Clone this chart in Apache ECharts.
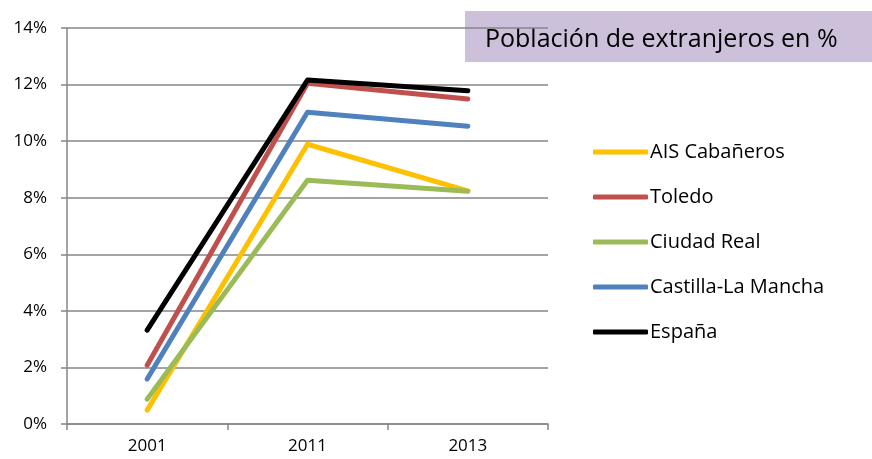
<!DOCTYPE html>
<html>
<head>
<meta charset="utf-8">
<script src="https://cdn.jsdelivr.net/npm/echarts@6/dist/echarts.min.js"></script>
<style>
  html, body { margin: 0; padding: 0; background: #fff; }
  #main { width: 872px; height: 459px; }
</style>
</head>
<body>
<div id="main"></div>
<script>
// años
const years = ['2001', '2011', '2013']
// población extranjera en %
const aisCabaneros = [0.49, 9.89, 8.24]
const toledo = [2.08, 12.05, 11.49]
const ciudadReal = [0.88, 8.62, 8.23]
const castillaLaMancha = [1.59, 11.02, 10.53]
const espana = [3.32, 12.16, 11.78]

const seriesNames = ['AIS Cabañeros', 'Toledo', 'Ciudad Real', 'Castilla-La Mancha', 'España']
const seriesData = [aisCabaneros, toledo, ciudadReal, castillaLaMancha, espana]
const colors = ['#FFC000', '#C0504D', '#9BBB59', '#4F81BD', '#000000']

const font = 'Open Sans, Noto Sans, sans-serif'
const myChart = echarts.init(document.getElementById('main'))

const option = {
  animation: false,
  grid: { left: 67, right: 324, top: 28, bottom: 35 },
  graphic: [
    {
      type: 'rect',
      shape: { x: 465, y: 11, width: 407, height: 51 },
      style: { fill: '#CCC0DA' },
    },
    {
      type: 'text',
      x: 485,
      y: 40,
      style: {
        text: 'Población de extranjeros en %',
        font: '25px ' + font,
        fill: '#000',
        verticalAlign: 'middle',
      },
    },
  ],
  legend: {
    orient: 'vertical',
    left: 588,
    top: 137,
    icon: 'roundRect',
    itemWidth: 55,
    itemHeight: 5,
    itemGap: 25,
    textStyle: { fontFamily: font, fontSize: 20, color: '#000', padding: [0, 0, 0, -3] },
    data: seriesNames,
  },
  xAxis: {
    type: 'category',
    data: years,
    boundaryGap: true,
    axisLine: { lineStyle: { color: '#868686', width: 1.5 } },
    axisTick: { show: true, length: 6, lineStyle: { color: '#868686', width: 1.5 } },
    axisLabel: { color: '#000', fontFamily: font, fontSize: 17, margin: 14 },
  },
  yAxis: {
    type: 'value',
    min: 0,
    max: 14,
    interval: 2,
    axisLine: { show: true, lineStyle: { color: '#868686', width: 1.5 } },
    axisTick: { show: true, length: 6, lineStyle: { color: '#868686', width: 1.5 } },
    axisLabel: { color: '#000', fontFamily: font, fontSize: 17, margin: 20, formatter: '{value}%' },
    splitLine: { lineStyle: { color: '#868686', width: 1.5 } },
  },
  series: seriesNames.map((name, i) => ({
    name,
    type: 'line',
    data: seriesData[i],
    symbol: 'none',
    color: colors[i],
    lineStyle: { width: 5, color: colors[i], cap: 'round', join: 'round' },
  })),
}

myChart.setOption(option)
</script>
</body>
</html>
